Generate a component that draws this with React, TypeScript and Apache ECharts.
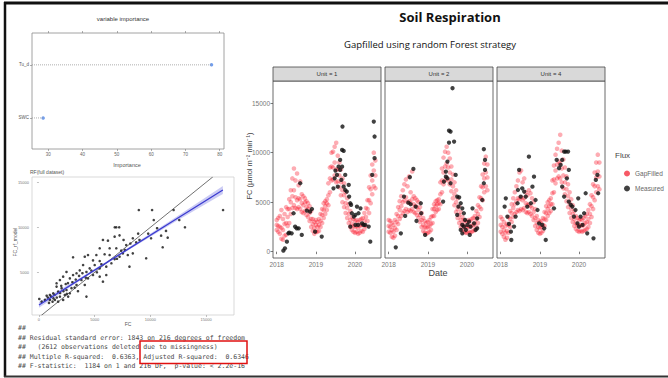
import React, { useEffect, useRef } from "react";
import * as echarts from "echarts";

// ---------- variable importance ----------
const impVars = ["SWC", "Tu_d"];
const impValues = [28.5, 77.6];
const impTicks = [30, 40, 50, 60, 70, 80];

// ---------- RF full dataset scatter ----------
const fcObserved = [8960, 10150, 12080, 16520, 6800, 6940, 7200, 10300, 12590, 13100, 11100, 11550, 10960, 10060, 9020, 8720, 8420, 7830, 7590, 7230, 6790, 6190, 5740, 9620, 8420, 7970, 7530, 7230, 6790, 6340, 5890, 5450, 5150, 4850, 4400, 3060, 4110, 6040, 5450, 5000, 4550, 4260, 3960, 3660, 3370, 3060, 2770, 2470, 2170, 1880, 1580, 3810, 4400, 4850, 5450, 6040, 5740, 4110, 3370, 2920, 2470, 2030, 1720, 1280, 980, 690, 2320, 2770, 2620, 4260, 1580, 1880, 1430, 980, 540, 30, 240, 1220, 1720, 2170, 6340, 6940, 7380, 5450, 8120, 800, 1100, 1400, 1600, 1900, 2200, 2500, 2000, 2600, 3000, 3300, 3600, 3900, 4200, 4700, 5200, 5600, 6500, 7000, 7700, 8200, 8900, 9800, 10600, 11400, 900, 1300, 2400, 3200, 3500];
const fcModel = [11920, 11920, 11920, 11920, 10000, 10000, 10000, 10810, 10810, 10000, 7780, 8850, 9070, 8780, 8590, 8330, 8780, 8030, 8590, 9110, 8960, 8520, 8590, 6560, 7110, 6920, 7110, 6730, 6470, 6920, 7000, 6250, 6920, 6330, 6920, 6670, 6730, 5630, 5440, 5810, 5440, 5040, 5810, 5220, 4890, 4700, 4330, 5040, 4520, 4140, 3780, 4140, 4330, 4700, 4520, 4700, 3960, 3590, 3590, 3240, 3030, 3240, 2850, 2670, 2480, 2400, 2480, 2670, 2300, 2300, 3410, 2300, 1930, 1930, 1930, 2040, 1740, 1740, 1740, 1930, 7670, 7670, 7410, 7670, 5630, 2200, 2300, 2500, 2200, 2700, 2900, 2600, 3500, 3800, 3900, 4200, 4600, 4900, 4400, 5200, 5000, 5900, 6000, 6500, 7500, 8200, 9300, 9300, 9900, 9600, 1600, 2100, 3700, 3300, 2900];
const fitX = [0, 4000, 8000, 12000, 16500];
const fitY = [1370, 4470, 7580, 10680, 14150];
const fitLo = [1050, 4330, 7440, 10450, 13700];
const fitHi = [1690, 4610, 7720, 10900, 14600];
const identityX = [0, 15600];
const scatterTicks = [0, 5000, 10000, 15000];
const scatterYTicks = [5000, 10000, 15000];

const statsLines = [
  "##",
  "## Residual standard error: 1843 on 216 degrees of freedom",
  "##   (2612 observations deleted due to missingness)",
  "## Multiple R-squared:  0.6363, Adjusted R-squared:  0.6346",
  "## F-statistic:  1184 on 1 and 216 DF,  p-value: < 2.2e-16",
];

// ---------- Soil respiration facets ----------
const units = ["Unit = 1", "Unit = 2", "Unit = 4"];
const yearTicks = [2018, 2019, 2020];
const fluxTicks = [0, 5000, 10000, 15000];

const gapDates = [2018.00, 2018.04, 2018.08, 2018.12, 2018.16, 2018.20, 2018.24, 2018.28, 2018.32, 2018.36, 2018.40, 2018.44, 2018.48, 2018.52, 2018.56, 2018.60, 2018.64, 2018.68, 2018.72, 2018.76, 2018.80, 2018.84, 2018.88, 2018.92, 2018.96, 2019.00, 2019.04, 2019.08, 2019.12, 2019.16, 2019.20, 2019.24, 2019.28, 2019.32, 2019.36, 2019.40, 2019.44, 2019.48, 2019.52, 2019.56, 2019.60, 2019.64, 2019.68, 2019.72, 2019.76, 2019.80, 2019.84, 2019.88, 2019.92, 2019.96, 2020.00, 2020.04, 2020.08, 2020.12, 2020.16, 2020.20, 2020.24, 2020.28, 2020.32, 2020.36, 2020.40, 2020.44, 2020.48, 2020.52];

const gapU1 = [[2200, 2700, 3200], [2000, 2600, 3400], [1800, 2500, 3600], [1300, 2400, 4200], [1200, 2200, 3300], [1600, 2800, 3800], [1700, 2900, 4500], [2600, 3500, 4300], [2900, 4300, 5300], [3800, 5000, 6200], [4400, 5600, 7400], [4700, 6200, 8400], [4400, 5500, 7200], [4300, 5200, 7900], [4500, 5400, 6700], [4300, 5300, 7100], [4000, 4900, 5800], [3900, 4700, 5600], [4100, 5000, 5400], [3700, 4500, 5100], [3500, 4300, 4900], [3100, 3900, 4600], [2500, 3300, 4100], [2100, 2800, 3300], [1800, 2400, 3000], [2000, 2700, 3200], [2000, 2500, 3000], [2100, 2700, 3300], [2500, 3100, 3800], [2900, 3700, 4300], [3400, 4200, 4900], [3800, 4600, 5100], [4200, 4900, 5300], [4700, 5700, 6900], [6000, 7400, 8500], [7200, 8600, 10000], [7300, 8500, 10100], [7700, 9000, 10600], [7000, 8300, 11000], [7100, 8300, 9700], [6500, 7700, 9000], [5700, 7000, 8300], [5000, 6200, 7400], [4500, 5700, 6900], [3900, 4900, 6000], [3400, 4400, 5400], [2900, 3800, 4800], [2500, 3200, 4100], [2200, 2800, 3500], [2000, 2600, 3300], [1900, 2500, 3100], [2000, 2600, 3200], [1800, 2400, 3000], [1900, 2600, 3200], [2100, 2700, 3300], [2000, 2700, 3400], [2300, 3100, 3900], [2600, 3500, 4400], [3100, 4300, 5200], [3900, 5200, 6500], [4900, 6300, 7700], [5800, 7200, 8800], [6600, 8200, 10000], [6400, 7700, 9200]];
const gapU2 = [[2000, 2600, 3200], [1900, 2500, 3100], [1500, 2200, 2900], [1400, 2000, 2700], [1600, 2400, 3200], [2200, 3000, 3800], [2800, 3600, 4500], [3300, 4200, 5100], [3600, 4600, 5600], [3900, 5000, 6200], [4100, 5200, 6800], [4300, 5500, 7300], [4000, 5000, 6600], [4200, 5100, 7600], [4100, 4900, 6000], [4300, 5300, 8100], [4000, 4800, 5600], [3900, 4600, 5400], [3700, 4500, 5200], [3400, 4200, 5000], [3000, 3700, 4500], [2500, 3200, 3900], [2100, 2700, 3400], [1900, 2500, 3100], [1800, 2400, 2900], [1900, 2500, 3000], [2000, 2600, 3200], [2200, 2800, 3500], [2900, 3600, 4300], [3600, 4300, 4800], [4000, 4600, 5100], [4200, 4800, 5200], [4300, 4900, 5300], [4800, 5800, 7000], [6000, 7200, 8400], [6800, 8000, 9500], [7200, 8600, 10100], [7500, 8900, 10600], [7200, 8500, 10000], [6800, 8000, 9400], [6100, 7300, 8600], [5400, 6600, 7800], [4700, 5800, 7000], [4000, 5000, 6200], [3400, 4300, 5400], [2900, 3700, 4600], [2500, 3200, 4000], [2200, 2800, 3500], [2000, 2600, 3200], [1900, 2500, 3100], [1900, 2400, 3000], [2000, 2600, 3200], [1900, 2500, 3100], [2000, 2600, 3300], [2100, 2700, 3400], [2200, 2900, 3600], [2500, 3300, 4100], [2900, 3800, 4700], [3500, 4500, 5500], [4300, 5400, 6600], [5200, 6500, 7800], [6000, 7400, 8900], [6600, 8000, 9600], [6200, 7500, 8800]];
const gapU4 = [[2000, 2700, 3500], [1800, 2500, 3300], [1500, 2200, 3000], [1200, 1900, 2600], [1400, 2100, 2800], [1900, 2700, 3500], [2500, 3300, 4100], [3000, 3900, 4800], [3500, 4400, 5400], [3800, 4800, 6000], [4000, 5100, 6600], [4200, 5400, 7200], [4100, 5300, 8000], [4300, 5500, 8200], [4200, 5200, 7000], [4400, 5400, 7400], [4000, 4900, 6000], [3900, 4700, 5700], [4000, 4800, 6200], [3800, 4600, 5900], [3600, 4400, 5400], [3200, 4000, 5000], [2600, 3400, 4300], [2200, 2900, 3600], [1900, 2500, 3200], [1800, 2400, 3000], [1900, 2500, 3100], [2100, 2700, 3400], [2600, 3300, 4000], [3200, 3900, 4600], [3600, 4300, 5000], [3900, 4600, 5200], [4100, 4800, 5400], [4800, 5900, 7200], [6000, 7300, 8700], [6900, 8200, 9800], [7400, 8800, 10400], [7600, 9100, 11000], [7400, 8900, 11800], [7000, 8400, 10200], [6400, 7700, 9300], [5800, 7000, 8500], [5100, 6300, 7600], [4500, 5600, 6800], [3900, 4900, 6000], [3400, 4300, 5300], [3000, 3800, 4700], [2600, 3300, 4100], [2300, 2900, 3600], [2100, 2700, 3400], [2000, 2600, 3200], [2100, 2700, 3300], [2000, 2600, 3200], [2100, 2700, 3400], [2200, 2900, 3600], [2300, 3000, 3800], [2500, 3300, 4200], [2900, 3800, 4800], [3500, 4600, 5700], [4300, 5500, 6800], [5200, 6600, 8000], [6000, 7500, 9000], [6600, 8100, 9800], [6300, 7600, 9000]];

const measU1 = [[2018.17, 100], [2018.21, 340], [2018.26, 1010], [2018.30, 1850], [2018.32, 1920], [2018.38, 1850], [2018.43, 3880], [2018.47, 2530], [2018.51, 2360], [2018.56, 2360], [2018.60, 6910], [2018.64, 1690], [2018.77, 4150], [2018.85, 4040], [2018.90, 4310], [2018.98, 2020], [2019.15, 1520], [2019.45, 6400], [2019.48, 7410], [2019.50, 8190], [2019.54, 7750], [2019.56, 6570], [2019.58, 8590], [2019.62, 9270], [2019.62, 8260], [2019.67, 10280], [2019.68, 12640], [2019.71, 10180], [2019.67, 8590], [2019.65, 7250], [2019.71, 6570], [2019.75, 7750], [2019.75, 6230], [2019.79, 6070], [2019.84, 6740], [2019.85, 5560], [2019.88, 4890], [2019.90, 4720], [2019.92, 3880], [2019.97, 3540], [2020.01, 3710], [2020.05, 4550], [2020.09, 3880], [2020.14, 4380], [2020.18, 2860], [2020.22, 2700], [2020.26, 2700], [2020.39, 1010], [2020.44, 7750], [2020.48, 13140], [2020.50, 11630], [2020.50, 9440], [2020.35, 2530], [2020.01, 2700], [2020.08, 2700], [2019.88, 2530]];
const measU2 = [[2018.18, 440], [2018.31, 1850], [2018.39, 5560], [2018.42, 3610], [2018.50, 4950], [2018.54, 7520], [2018.56, 4790], [2018.63, 8360], [2018.69, 4550], [2018.82, 4890], [2018.83, 3880], [2018.71, 3100], [2018.93, 1690], [2019.10, 1250], [2019.39, 5060], [2019.41, 7080], [2019.46, 8090], [2019.50, 9100], [2019.54, 12230], [2019.58, 12130], [2019.54, 11020], [2019.67, 11120], [2019.46, 7580], [2019.50, 7410], [2019.58, 6910], [2019.71, 7750], [2019.75, 5560], [2019.80, 5490], [2019.78, 4550], [2019.75, 3710], [2019.84, 4890], [2019.88, 4380], [2019.92, 3880], [2019.95, 3200], [2019.88, 2700], [2019.92, 2530], [2019.97, 2190], [2020.01, 2700], [2020.05, 3030], [2020.09, 2530], [2020.07, 1690], [2020.14, 4380], [2020.18, 2860], [2020.22, 2190], [2020.26, 3370], [2020.26, 2360], [2019.88, 1850], [2019.84, 2190], [2020.39, 5220], [2020.43, 6910], [2020.46, 8260], [2020.46, 9270], [2020.43, 10350], [2019.63, 16510]];
const measU4 = [[2018.13, 5390], [2018.10, 4550], [2018.17, 3540], [2018.21, 2800], [2018.26, 2020], [2018.27, 1180], [2018.34, 2530], [2018.38, 3540], [2018.43, 4890], [2018.44, 6230], [2018.47, 8260], [2018.51, 5560], [2018.55, 6400], [2018.60, 6070], [2018.64, 5560], [2018.68, 4550], [2018.72, 9600], [2018.77, 4890], [2018.81, 6570], [2018.85, 7580], [2018.89, 5220], [2018.94, 4210], [2018.98, 2860], [2019.06, 2700], [2019.11, 2360], [2019.15, 1180], [2019.36, 4380], [2019.43, 9270], [2019.49, 8430], [2019.53, 8760], [2019.57, 9270], [2019.62, 10110], [2019.66, 10110], [2019.72, 10110], [2019.74, 8260], [2019.69, 7410], [2019.62, 5560], [2019.57, 6570], [2019.74, 5060], [2019.79, 4720], [2019.83, 4550], [2019.87, 3540], [2019.91, 4210], [2019.96, 2860], [2020.00, 2530], [2020.04, 3540], [2020.09, 2700], [2020.13, 3880], [2020.17, 5900], [2020.21, 1850], [2020.37, 1350], [2020.43, 7250], [2020.47, 7750], [2020.49, 5900], [2019.98, 5390]];

const gapByUnit = [gapU1, gapU2, gapU4];
const measByUnit = [measU1, measU2, measU4];

// ---------- layout (styles/positions) ----------
const PANEL_LEFT = [273, 385, 497];
const PANEL_W = 108;
const PANEL_TOP = 81;
const PANEL_H = 177;
const STRIP_TOP = 67;
const STRIP_H = 14;

const IMP_MIN = 25.25;
const IMP_MAX = 81.25;

const plain = (v: number) => String(v);

export default function App() {
  const ref = useRef<HTMLDivElement>(null);

  useEffect(() => {
    if (!ref.current) return;
    const chart = echarts.init(ref.current, undefined, { renderer: "svg" });

    const plotFont = "Liberation Sans";
    const grids: any[] = [
      { left: 32, top: 33, width: 192, height: 116, show: true, borderColor: "#8a8a8a", borderWidth: 0.8, backgroundColor: "#fff" },
      { left: 32, top: 177, width: 202, height: 138, show: true, borderColor: "#cfcfcf", borderWidth: 0.8, backgroundColor: "#fff" },
    ];
    PANEL_LEFT.forEach((l) =>
      grids.push({ left: l, top: PANEL_TOP, width: PANEL_W, height: PANEL_H, show: true, borderColor: "#444", borderWidth: 0.8, backgroundColor: "#fff" })
    );

    const xAxes: any[] = [
      {
        type: "value", gridIndex: 0, min: IMP_MIN, max: IMP_MAX, position: "bottom",
        axisLine: { show: false }, splitLine: { show: false },
        axisTick: { show: true, customValues: impTicks, length: 2, lineStyle: { color: "#777", width: 0.6 } },
        axisLabel: { show: true, customValues: impTicks, fontSize: 4.5, color: "#666", margin: 3, fontFamily: plotFont, formatter: plain },
      },
      {
        type: "value", gridIndex: 0, min: IMP_MIN, max: IMP_MAX, position: "top",
        axisLine: { show: false }, splitLine: { show: false }, axisLabel: { show: false },
        axisTick: { show: true, customValues: impTicks, length: 2, lineStyle: { color: "#777", width: 0.6 } },
      },
      {
        type: "value", gridIndex: 1, min: -625, max: 17500,
        axisLine: { show: false }, splitLine: { show: false },
        axisTick: { show: true, customValues: scatterTicks, length: 2, lineStyle: { color: "#999", width: 0.6 } },
        axisLabel: { show: true, customValues: scatterTicks, fontSize: 4, color: "#777", margin: 2, fontFamily: plotFont, formatter: plain },
      },
    ];
    const yAxes: any[] = [
      {
        type: "value", gridIndex: 0, min: 0.415, max: 2.6,
        axisLine: { show: false }, splitLine: { show: false },
        axisTick: { show: true, customValues: [1, 2], length: 2, lineStyle: { color: "#777", width: 0.6 } },
        axisLabel: { show: true, customValues: [1, 2], fontSize: 4.5, color: "#555", margin: 3, fontFamily: plotFont, formatter: (v: number) => impVars[Math.round(v) - 1] },
      },
      {
        type: "value", gridIndex: 1, min: 256, max: 15590,
        axisLine: { show: false }, splitLine: { show: false },
        axisTick: { show: true, customValues: scatterYTicks, length: 2, lineStyle: { color: "#999", width: 0.6 } },
        axisLabel: { show: true, customValues: scatterYTicks, fontSize: 4, color: "#777", margin: 3, fontFamily: plotFont, formatter: plain },
      },
    ];
    units.forEach((_, i) => {
      xAxes.push({
        type: "value", gridIndex: 2 + i, min: 2017.905, max: 2020.664,
        axisLine: { show: false }, splitLine: { show: false },
        axisTick: { show: true, customValues: yearTicks, length: 2.5, lineStyle: { color: "#444", width: 0.7 } },
        axisLabel: { show: true, customValues: yearTicks, fontSize: 6.5, color: "#777", margin: 3, fontFamily: plotFont, formatter: plain },
      });
      yAxes.push({
        type: "value", gridIndex: 2 + i, min: -640, max: 17240,
        axisLine: { show: false }, splitLine: { show: false },
        axisTick: { show: i === 0, customValues: fluxTicks, length: 2.5, lineStyle: { color: "#444", width: 0.7 } },
        axisLabel: { show: i === 0, customValues: fluxTicks, fontSize: 6.5, color: "#777", margin: 3, fontFamily: plotFont, formatter: plain },
      });
    });

    const series: any[] = [];
    // importance dot chart
    impValues.forEach((v, i) => {
      series.push({
        type: "line", xAxisIndex: 0, yAxisIndex: 0, symbol: "none", silent: true,
        data: [[IMP_MIN, i + 1], [v, i + 1]],
        lineStyle: { color: "#9a9a9a", width: 0.8, type: [1, 1] },
      });
    });
    series.push({
      type: "scatter", xAxisIndex: 0, yAxisIndex: 0, symbolSize: 3.5,
      data: impValues.map((v, i) => [v, i + 1]),
      itemStyle: { color: "#4f86e8" },
    });

    // scatter: band, identity, points, fit
    series.push({
      type: "custom", xAxisIndex: 2, yAxisIndex: 1, data: [[0, 0]], silent: true,
      renderItem: (_p: any, api: any) => {
        const pts: number[][] = [];
        fitX.forEach((x, k) => pts.push(api.coord([x, fitHi[k]])));
        for (let k = fitX.length - 1; k >= 0; k--) pts.push(api.coord([fitX[k], fitLo[k]]));
        return { type: "polygon", shape: { points: pts }, style: { fill: "rgba(160,160,235,0.55)" } };
      },
    });
    series.push({
      type: "line", xAxisIndex: 2, yAxisIndex: 1, symbol: "none", silent: true, clip: true,
      data: identityX.map((x) => [x, x]),
      lineStyle: { color: "#333", width: 0.7 },
    });
    series.push({
      type: "scatter", xAxisIndex: 2, yAxisIndex: 1, symbolSize: 2.6,
      data: fcObserved.map((x, k) => [x, fcModel[k]]),
      itemStyle: { color: "#111" },
    });
    series.push({
      type: "line", xAxisIndex: 2, yAxisIndex: 1, symbol: "none", silent: true,
      data: fitX.map((x, k) => [x, fitY[k]]),
      lineStyle: { color: "#3c3cd0", width: 1.3 },
    });

    // facets
    units.forEach((_, i) => {
      const gap: number[][] = [];
      gapByUnit[i].forEach((triple, k) => triple.forEach((v) => gap.push([gapDates[k], v])));
      series.push({
        name: "GapFilled", type: "scatter", xAxisIndex: 3 + i, yAxisIndex: 2 + i,
        symbolSize: 4.6, data: gap,
        itemStyle: { color: "rgba(250,10,30,0.42)" },
      });
    });
    units.forEach((_, i) => {
      series.push({
        name: "Measured", type: "scatter", xAxisIndex: 3 + i, yAxisIndex: 2 + i,
        symbolSize: 4.3, data: measByUnit[i],
        itemStyle: { color: "#111" },
      });
    });

    const graphics: any[] = [];
    // slide frame
    graphics.push({ type: "line", shape: { x1: 4, y1: 3, x2: 668, y2: 3 }, style: { stroke: "#111", lineWidth: 3 } });
    graphics.push({ type: "line", shape: { x1: 5, y1: 2, x2: 5, y2: 377 }, style: { stroke: "#111", lineWidth: 2.5 } });
    graphics.push({ type: "line", shape: { x1: 4, y1: 376.5, x2: 668, y2: 376.5 }, style: { stroke: "#333", lineWidth: 2 } });

    // importance texts
    graphics.push({ type: "text", x: 123, y: 19, style: { text: "variable importance", fontSize: 6, fill: "#333", fontFamily: plotFont, align: "center", verticalAlign: "middle" } });
    graphics.push({ type: "text", x: 127, y: 165, style: { text: "Importance", fontSize: 5.5, fill: "#555", fontFamily: plotFont, align: "center", verticalAlign: "middle" } });

    // scatter texts
    graphics.push({ type: "text", x: 30, y: 172, style: { text: "RF(full dataset)", fontSize: 5, fill: "#555", fontFamily: plotFont, align: "left", verticalAlign: "middle" } });
    graphics.push({ type: "text", x: 128, y: 324, style: { text: "FC", fontSize: 5, fill: "#555", fontFamily: plotFont, align: "center", verticalAlign: "middle" } });
    graphics.push({ type: "text", x: 15, y: 242, rotation: Math.PI / 2, style: { text: "FC_rf_model", fontSize: 5, fill: "#555", fontFamily: plotFont, align: "center", verticalAlign: "middle" } });

    // stats text
    const statsY = [328, 337.5, 347, 356.5, 366];
    statsLines.forEach((t, k) =>
      graphics.push({ type: "text", x: 18, y: statsY[k], style: { text: t, fontSize: 6.5, fill: "#4a4a4a", fontFamily: "DejaVu Sans Mono", align: "left", verticalAlign: "middle" } })
    );
    graphics.push({ type: "rect", shape: { x: 140, y: 341, width: 107, height: 22.5 }, style: { fill: "none", stroke: "#e01010", lineWidth: 1.5 } });

    // title
    graphics.push({ type: "text", x: 450, y: 17, style: { text: "Soil Respiration", fontSize: 13, fontWeight: "bold", fill: "#111", fontFamily: "Open Sans", align: "center", verticalAlign: "middle" } });
    graphics.push({ type: "text", x: 430, y: 44, style: { text: "Gapfilled using random Forest strategy", fontSize: 9.5, fill: "#111", fontFamily: "Open Sans", align: "center", verticalAlign: "middle" } });

    // strips
    units.forEach((u, i) => {
      graphics.push({ type: "rect", shape: { x: PANEL_LEFT[i], y: STRIP_TOP, width: PANEL_W, height: STRIP_H }, style: { fill: "#d9d9d9", stroke: "#444", lineWidth: 0.8 } });
      graphics.push({ type: "text", x: PANEL_LEFT[i] + PANEL_W / 2, y: STRIP_TOP + STRIP_H / 2, style: { text: u, fontSize: 6, fill: "#333", fontFamily: plotFont, align: "center", verticalAlign: "middle" } });
    });
    graphics.push({ type: "text", x: 249, y: 166, rotation: Math.PI / 2, style: { text: "FC (µmol m⁻² min⁻¹)", fontSize: 7.5, fill: "#444", fontFamily: plotFont, align: "center", verticalAlign: "middle" } });
    graphics.push({ type: "text", x: 438, y: 273, style: { text: "Date", fontSize: 9, fill: "#444", fontFamily: plotFont, align: "center", verticalAlign: "middle" } });
    graphics.push({ type: "text", x: 615, y: 155, style: { text: "Flux", fontSize: 8, fill: "#444", fontFamily: plotFont, align: "left", verticalAlign: "middle" } });

    chart.setOption({
      animation: false,
      backgroundColor: "#fff",
      grid: grids,
      xAxis: xAxes,
      yAxis: yAxes,
      series,
      legend: {
        orient: "vertical", left: 619, top: 165, itemWidth: 6, itemHeight: 6, itemGap: 8,
        icon: "circle",
        data: [
          { name: "GapFilled", itemStyle: { color: "#f5303f" } },
          { name: "Measured", itemStyle: { color: "#111" } },
        ],
        textStyle: { fontSize: 6.5, color: "#666", fontFamily: plotFont },
        selectedMode: false,
      },
      graphic: graphics,
    });

    return () => chart.dispose();
  }, []);

  return <div ref={ref} style={{ position: "fixed", left: 0, top: 0, width: 668, height: 378 }} />;
}
